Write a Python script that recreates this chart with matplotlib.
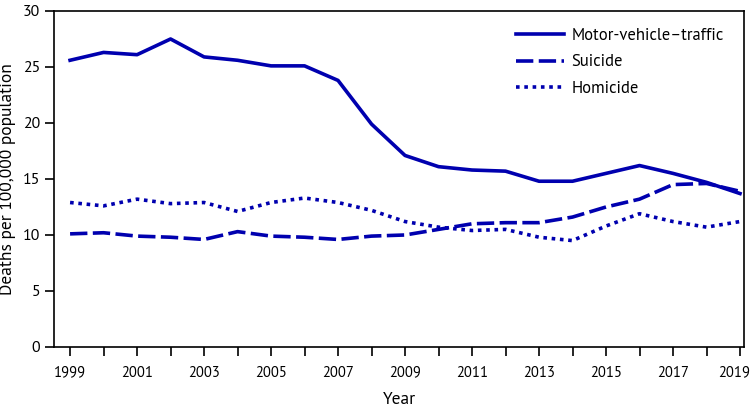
import matplotlib.pyplot as plt
from matplotlib.transforms import ScaledTranslation

years = list(range(1999, 2020))
motor_vehicle = [25.6, 26.3, 26.1, 27.5, 25.9, 25.6, 25.1, 25.1, 23.8, 19.9, 17.1,
                 16.1, 15.8, 15.7, 14.8, 14.8, 15.5, 16.2, 15.5, 14.7, 13.7]
suicide = [10.1, 10.2, 9.9, 9.8, 9.6, 10.3, 9.9, 9.8, 9.6, 9.9, 10.0,
           10.5, 11.0, 11.1, 11.1, 11.6, 12.5, 13.2, 14.5, 14.6, 13.9]
homicide = [12.9, 12.6, 13.2, 12.8, 12.9, 12.1, 12.9, 13.3, 12.9, 12.2, 11.2,
            10.7, 10.4, 10.5, 9.8, 9.5, 10.8, 11.9, 11.2, 10.7, 11.2]
tick_years = list(range(1999, 2020, 2))

plt.rcParams['font.family'] = ['PT Sans', 'DejaVu Sans']
color = '#0000AF'

fig = plt.figure(figsize=(7.51, 4.15), dpi=100)
ax = fig.add_axes([0.0719, 0.1639, 0.9188, 0.8096])

ax.plot(years, motor_vehicle, color=color, lw=2.6, label='Motor-vehicle\u2013traffic')
ax.plot(years, suicide, color=color, lw=2.6, dashes=(4.8, 1.5), label='Suicide')
ax.plot(years, homicide, color=color, lw=2.6, dashes=(1, 1.3), label='Homicide')

ax.set_xlim(1998.52, 2019.12)
ax.set_ylim(0, 30)
ax.set_xticks(years)
ax.set_xticklabels([str(y) if y in tick_years else '' for y in years])
ax.set_yticks(range(0, 31, 5))
ax.tick_params(direction='out', length=6.5, width=1.2)
ax.tick_params(axis='x', pad=7, labelsize=10.5)
ax.tick_params(axis='y', labelsize=11.5)
for s in ax.spines.values():
    s.set_linewidth(1.2)

# nudge the last year label so it stays inside the figure
last = ax.get_xticklabels()[-1]
last.set_transform(last.get_transform() + ScaledTranslation(-4 / 72, 0, fig.dpi_scale_trans))

ax.set_xlabel('Year', fontsize=12.5, labelpad=9)
ax.set_ylabel('Deaths per 100,000 population', fontsize=12.5, labelpad=5)

ax.legend(loc='upper right', frameon=False, fontsize=12, handlelength=2.9,
          handletextpad=0.45, borderaxespad=0.6, labelspacing=0.65,
          bbox_to_anchor=(0.995, 1.0))

fig.savefig('out.png', dpi=100)
